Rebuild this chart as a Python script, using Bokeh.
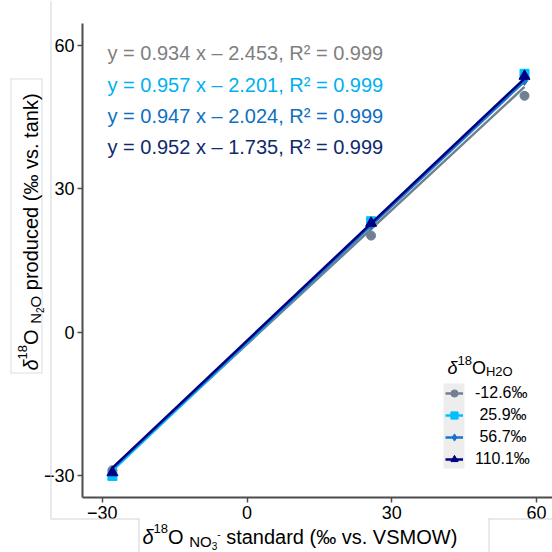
import math
from bokeh.plotting import figure
from bokeh.models import Label, BoxAnnotation, Legend, LegendItem, Range1d
from bokeh.embed import file_html
from bokeh.resources import INLINE

# ---------------- data ----------------
std_x = [-27.9, 25.7, 57.5]          # d18O of NO3- standards (x)
y_m12 = [-28.8, 20.2, 49.4]          # -12.6 permil water
y_p25 = [-30.0, 23.2, 54.0]          # 25.9 permil water
y_p56 = [-29.0, 22.4, 52.6]          # 56.7 permil water
y_p110 = [-29.3, 22.8, 53.5]         # 110.1 permil water
series_labels = ["-12.6‰", "\u00a025.9‰", "\u00a056.7‰", "110.1‰"]
slopes = [0.934, 0.957, 0.947, 0.952]
intercepts = [-2.453, -2.201, -2.024, -1.735]
r_squared = [0.999, 0.999, 0.999, 0.999]
x_ticks = [-30, 0, 30, 60]
y_ticks = [-30, 0, 30, 60]

series_y = [y_m12, y_p25, y_p56, y_p110]
colors = ["#708090", "#00BFFF", "#1874CD", "#000080"]
eq_colors = ["#808080", "#00B0F0", "#0F70C0", "#0F2A6E"]
markers = ["circle", "square", "diamond", "triangle"]
msizes = [9, 9, 10, 11]
FONT = "Liberation Sans"
LOFF = 6  # label baseline correction (px)

# ---------------- geometry (page pixel space) ----------------
XMIN, XMAX = -34.1, 63.3
YMIN, YMAX = -34.5, 64.5
FL, FR, FT, FB = 82, 552, 23, 497   # axis box edges in page px
SX = (FR - FL) / (XMAX - XMIN)
SY = (FB - FT) / (YMAX - YMIN)
CW = CH = 552


def X(px):
    return XMIN + (px - FL) / SX


def Y(py):
    return YMAX - (py - FT) / SY


W = {" ": 278, "(": 333, ")": 333, ".": 278, ",": 278, "-": 333, "=": 584,
     "‰": 1000, "–": 556, "R": 722, "O": 778, "N": 722, "H": 722, "V": 667,
     "S": 667, "M": 833, "W": 944, "a": 556, "c": 500, "d": 556, "e": 556,
     "k": 500, "n": 556, "o": 556, "p": 556, "r": 333, "s": 500, "t": 278,
     "u": 556, "v": 500, "x": 500, "y": 500, "δ": 556, "²": 333}


def tw(s, size):
    return sum(W.get(c, 556) for c in s) * size / 1000.0


p = figure(width=CW, height=CH, output_backend="svg", toolbar_location=None,
           x_range=Range1d(X(0), X(CW)), y_range=Range1d(Y(CH), Y(0)),
           min_border=0, min_border_left=0, min_border_right=0,
           min_border_top=0, min_border_bottom=0)
p.outline_line_color = None
p.xgrid.visible = False
p.ygrid.visible = False
p.background_fill_color = "white"

p.yaxis.fixed_location = XMIN
p.yaxis.bounds = (YMIN, YMAX)
p.xaxis.fixed_location = YMIN
p.xaxis.bounds = (XMIN, XMAX)

for ax, ticks in ((p.xaxis, x_ticks), (p.yaxis, y_ticks)):
    ax.ticker = ticks
    ax.axis_line_color = "#4d4d4d"
    ax.axis_line_width = 2
    ax.major_tick_line_color = "#4d4d4d"
    ax.major_tick_line_width = 1.5
    ax.major_tick_out = 5
    ax.major_tick_in = 0
    ax.minor_tick_line_color = None
    ax.major_label_text_font = FONT
    ax.major_label_text_font_size = "18px"
    ax.major_label_text_color = "black"
    ax.major_label_standoff = 3

# decorative cell outlines
GRAYL = "#d4d4d4"


def vline(px, py0, py1, c=GRAYL):
    p.add_layout(BoxAnnotation(left=X(px), right=X(px + 1), top=Y(py0), bottom=Y(py1),
                               fill_color=c, fill_alpha=1, line_color=None))


def hline(py, px0, px1, c=GRAYL):
    p.add_layout(BoxAnnotation(left=X(px0), right=X(px1), top=Y(py), bottom=Y(py + 1),
                               fill_color=c, fill_alpha=1, line_color=None))


vline(50, 0, 518)
hline(518, 50, 139)
vline(138, 518, 552)
vline(488, 518, 552)
hline(518, 488, 552)
# y-title box
BOXC = "#dedede"
vline(10, 78, 373, BOXC)
vline(41, 78, 373, BOXC)
hline(78, 10, 42, BOXC)
hline(372, 10, 42, BOXC)

# regression lines + points
items = []
for i in range(4):
    xs = [min(std_x), max(std_x)]
    ys = [slopes[i] * v + intercepts[i] for v in xs]
    lr = p.line(xs, ys, line_color=colors[i], line_width=2.5)
    sr = p.scatter(std_x, series_y[i], marker=markers[i], size=msizes[i],
                   fill_color=colors[i], line_color=colors[i])
    items.append(LegendItem(label=series_labels[i], renderers=[lr, sr]))

# equations
eq_base = [58, 90, 121, 152]
for i in range(4):
    txt = f"y = {slopes[i]:.3f} x – {abs(intercepts[i]):.3f}, R² = {r_squared[i]:.3f}"
    p.add_layout(Label(x=X(107), y=Y(eq_base[i] - LOFF), text=txt, text_font=FONT,
                       text_font_size="20px", text_color=eq_colors[i],
                       text_baseline="alphabetic", text_align="left"))

# legend key background + legend
p.add_layout(BoxAnnotation(left=X(443), right=X(464), top=Y(383), bottom=Y(468),
                           fill_color="#ededed", fill_alpha=1, line_color=None))
legend = Legend(items=items, location=(445, CH - 469), padding=0, margin=0,
                spacing=2, glyph_width=18, glyph_height=20, label_height=20,
                label_standoff=12, label_text_font=FONT, label_text_font_size="16px",
                label_text_color="black", background_fill_alpha=0,
                border_line_color=None)
p.add_layout(legend)


def runs(x0, y0, parts, vertical=False):
    adv = 0.0
    for text, size, dy, style in parts:
        lead = len(text) - len(text.lstrip(" "))
        adv += tw(" " * lead, size)
        text = text.lstrip(" ")
        if not text:
            continue
        if vertical:
            lx, ly, ang = x0 + dy - LOFF, y0 - adv, math.pi / 2
        else:
            lx, ly, ang = x0 + adv, y0 + dy - LOFF, 0
        p.add_layout(Label(x=X(lx), y=Y(ly), text=text, angle=ang, text_font=FONT,
                           text_font_size=f"{size}px", text_font_style=style,
                           text_color="black", text_baseline="alphabetic",
                           text_align="left"))
        adv += tw(text, size)


# legend title
runs(447, 373, [("δ", 18, 0, "italic"), ("18", 13, -7, "normal"),
                ("O", 18, 0, "normal"), ("H2O", 13, 4, "normal")])

# x-axis title
runs(142, 542, [("δ", 20, 0, "italic"), ("18", 13, -8, "normal"),
                ("O", 20, 0, "normal"), (" ", 20, 0, "normal"),
                ("NO", 15, 5, "normal"), ("3", 10, 9, "normal"),
                ("-", 10, -3, "normal"),
                (" standard (‰ vs. VSMOW)", 20, 0, "normal")])

# y-axis title
runs(36, 370, [("δ", 20, 0, "italic"), ("18", 13, -8, "normal"),
               ("O", 20, 0, "normal"), (" ", 20, 0, "normal"),
               ("N", 15, 5, "normal"), ("2", 10, 9, "normal"),
               ("O", 15, 5, "normal"),
               (" produced (‰ vs. tank)", 20, 0, "normal")], vertical=True)

open("out.html", "w").write(file_html(p, INLINE))
